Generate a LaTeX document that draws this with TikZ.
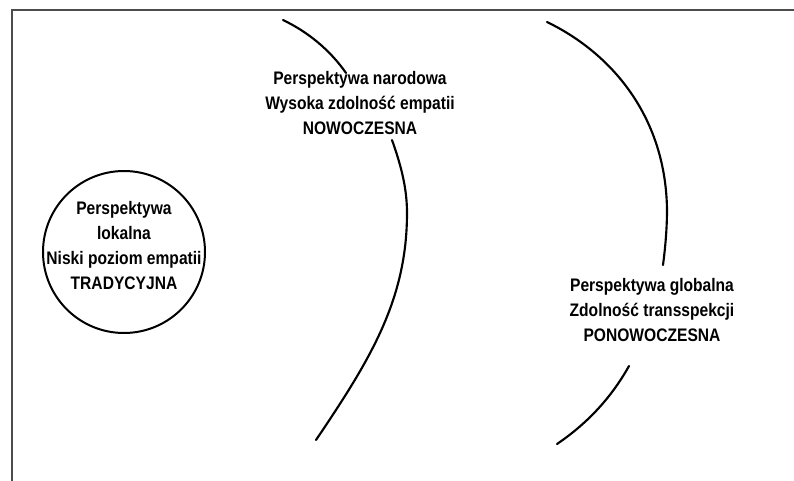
\documentclass[tikz,border=0pt]{standalone}
\usepackage{fontspec}
\setmainfont{Liberation Sans}
\newfontfamily\napisfont[FakeStretch=0.86]{Liberation Sans}

\tikzset{
	luk/.style={line width=1.6pt, line cap=round},
	napis/.style={align=center, font=\napisfont\fontsize{13.6}{18.75}\selectfont\bfseries, inner sep=0pt},
	ramka/.style={draw=black!70, line width=1.5pt}
}

\begin{document}
\begin{tikzpicture}[x=0.75pt, y=-0.75pt]
	\useasboundingbox (0,0) rectangle (794,481);
	\draw[ramka] (12,481) -- (12,10) -- (794,10);
	\node[circle, draw, line width=1.5pt, minimum size=121.5pt, inner sep=0pt] (kolo) at (124,252) {};
	\node[napis] (lokalna) at (124,246) {Perspektywa\\lokalna\\Niski poziom empatii\\TRADYCYJNA};
	\node[napis] (narodowa) at (360,103) {Perspektywa narodowa\\Wysoka zdolność empatii\\NOWOCZESNA};
	\node[napis] (globalna) at (652,310) {Perspektywa globalna\\Zdolność transspekcji\\PONOWOCZESNA};
	\draw[luk] (283,20) .. controls (308,32) and (330,50) .. (346,73);
	\draw[luk] (392,140) .. controls (402,168) and (407,190) .. (407,213)
		.. controls (407,300) and (370,360) .. (316,440);
	\draw[luk] (547,22) .. controls (615,55) and (666,120) .. (667,210)
		.. controls (667,230) and (665,250) .. (663,265);
	\draw[luk] (629,366) .. controls (610,400) and (585,425) .. (557,444);
\end{tikzpicture}
\end{document}
